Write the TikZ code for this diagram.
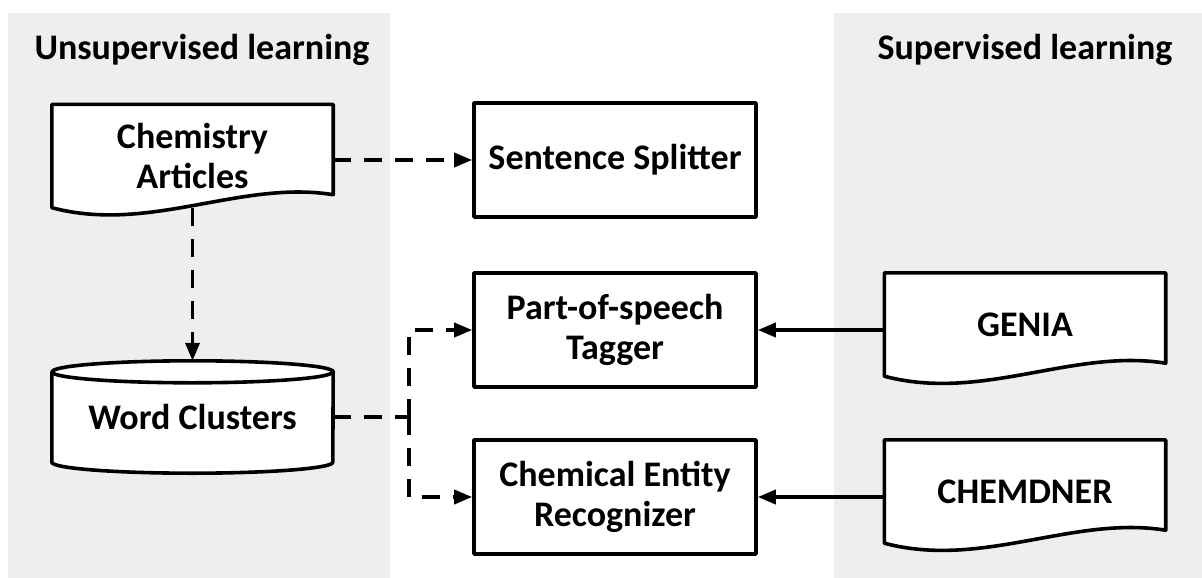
\documentclass[tikz,border=0pt]{standalone}
\usepackage{fontspec}
\setmainfont{Carlito}
\usetikzlibrary{arrows.meta}

\definecolor{panelgray}{RGB}{238,238,238}

\pgfdeclarelayer{panel}
\pgfdeclarelayer{paper}
\pgfsetlayers{panel,paper,main}

% outline of a document sheet behind a docu node
\newcommand{\docpaper}[1]{%
  \begin{pgfonlayer}{paper}
    \draw[outline, fill=white] (#1.north west) -- (#1.north east) -- ([yshift=13pt]#1.south east)
      .. controls ([xshift=-93pt,yshift=28pt]#1.south east) and ([xshift=98pt,yshift=-26pt]#1.south west) .. (#1.south west) -- cycle;
  \end{pgfonlayer}}

% outline of a drum behind a drum node
\newcommand{\drumpaper}[1]{%
  \begin{pgfonlayer}{paper}
    \draw[outline, fill=white] ([yshift=-11pt]#1.north west) -- ([yshift=11pt]#1.south west)
      arc[start angle=180, end angle=360, x radius=140.5pt, y radius=11pt]
      -- ([yshift=-11pt]#1.north east)
      arc[start angle=0, end angle=180, x radius=140.5pt, y radius=11pt] -- cycle;
    \draw[outline] ([yshift=-11pt]#1.north west)
      arc[start angle=180, end angle=360, x radius=140.5pt, y radius=11pt];
  \end{pgfonlayer}}

\tikzset{
  outline/.style={line width=3.6pt, line join=round},
  bigtext/.style={font=\bfseries\fontsize{36}{40}\selectfont, align=center},
  procbox/.style={bigtext, outline, draw, fill=white, minimum width=282pt, minimum height=114pt, inner sep=0pt},
  docu/.style={bigtext, minimum width=281pt, minimum height=103pt, inner sep=0pt},
  drum/.style={bigtext, minimum width=281pt, minimum height=112pt, inner sep=0pt},
  arrowtip/.style={-{Triangle[length=18pt,width=14pt]}},
  dashlink/.style={line width=3.6pt, dash pattern=on 18pt off 13pt},
  solidlink/.style={line width=3.6pt, arrowtip}
}

\begin{document}
\begin{tikzpicture}[x=1pt, y=-1pt]
    % panels
    \begin{pgfonlayer}{panel}
        \fill[white] (0,0) rectangle (1202,578);
        \fill[panelgray] (8,13) rectangle (390,578);
        \fill[panelgray] (834,13) rectangle (1202,578);
    \end{pgfonlayer}
    \useasboundingbox (0,0) rectangle (1202,578);

    \node[bigtext] (unsup) at (202,50) {Unsupervised learning};
    \node[bigtext] (sup) at (1025,50) {Supervised learning};

    % unsupervised side
    \node[docu] (chem) at (192.5,156) {Chemistry\\Articles};
    \docpaper{chem}
    \node[drum] (words) at (192.5,417) {Word Clusters};
    \drumpaper{words}

    % tools
    \node[procbox] (sent) at (615,160) {Sentence Splitter};
    \node[procbox] (pos) at (615,330) {Part-of-speech\\Tagger};
    \node[procbox] (cer) at (615,497) {Chemical Entity\\Recognizer};

    % supervised side
    \node[docu] (genia) at (1025,324.5) {GENIA};
    \docpaper{genia}
    \node[docu] (chemd) at (1025,491.5) {CHEMDNER};
    \docpaper{chemd}

    % connectors
    \draw[dashlink, arrowtip] (chem.east |- sent.west) -- (sent.west);
    \draw[dashlink, arrowtip] (chem.south) -- (words.north);
    \coordinate (fork) at ([xshift=76pt]words.east);
    \draw[dashlink] (words.east) -- (fork);
    \draw[dashlink, arrowtip] (fork) |- (pos.west);
    \draw[dashlink, arrowtip] (fork) |- (cer.west);
    \draw[solidlink] (genia.west |- pos.east) -- (pos.east);
    \draw[solidlink] (chemd.west |- cer.east) -- (cer.east);
\end{tikzpicture}
\end{document}
